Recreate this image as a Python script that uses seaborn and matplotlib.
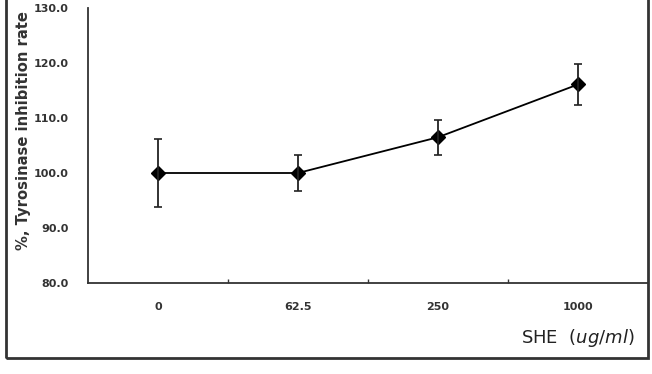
import matplotlib
matplotlib.use("Agg")
import matplotlib.pyplot as plt
from matplotlib.patches import Rectangle
from matplotlib.ticker import FormatStrFormatter, FixedLocator
import seaborn as sns
import pandas as pd

# Data
concentrations = ["0", "62.5", "250", "1000"]
inhibition = [100.0, 100.0, 106.5, 116.1]
sd = [6.1, 3.3, 3.2, 3.7]
y_ticks = [80, 90, 100, 110, 120, 130]

sns.set_theme(style="white")
plt.rcParams["font.family"] = ["DejaVu Sans"]

df = pd.DataFrame({"conc": concentrations, "rate": inhibition})

fig = plt.figure(figsize=(6.52, 3.74), dpi=100)
ax = fig.add_axes([88 / 652, 1 - 283 / 374, 560 / 652, 275 / 374])

sns.pointplot(data=df, x="conc", y="rate", order=concentrations, errorbar=None,
              color="black", markers="D", linestyles="-", linewidth=1.3,
              markersize=7.5, ax=ax)
ax.errorbar(range(len(concentrations)), inhibition, yerr=sd, fmt="none",
            ecolor="#222222", elinewidth=1.3, capsize=3.2, capthick=1.2, zorder=2)

ax.set_xlim(-0.5, 3.5)
ax.set_ylim(80, 130)
ax.set_yticks(y_ticks)
ax.yaxis.set_major_formatter(FormatStrFormatter("%.1f"))
ax.xaxis.set_minor_locator(FixedLocator([0.5, 1.5, 2.5]))
ax.set_xlabel("")
ax.set_ylabel("")

for s in ["top", "right"]:
    ax.spines[s].set_visible(False)
for s in ["left", "bottom"]:
    ax.spines[s].set_color("#333333")
    ax.spines[s].set_linewidth(1.3)

ax.tick_params(axis="y", which="major", direction="in", length=3, width=1,
               color="#333333", pad=14, labelsize=8, labelcolor="#333333")
ax.tick_params(axis="x", which="major", length=0, pad=14, labelsize=8,
               labelcolor="#333333")
ax.tick_params(axis="x", which="minor", direction="in", length=3, width=1,
               color="#333333", bottom=True)
for lab in ax.get_xticklabels() + ax.get_yticklabels():
    lab.set_fontweight("bold")

fig.text(24 / 652, 1 - 250 / 374, "%, Tyrosinase inhibition rate",
         rotation=90, ha="center", va="bottom", fontsize=10.6,
         fontweight="bold", color="#333333")

fig.text(635 / 652, 1 - 338 / 374, r"SHE  ($\it{ug/ml}$)", ha="right",
         va="center", fontsize=13, color="#222222")

fig.patches.append(Rectangle((6 / 652, 1 - 358 / 374), 642 / 652, 1.0,
                             transform=fig.transFigure, fill=False,
                             edgecolor="#333333", linewidth=2))

fig.savefig("out.png", dpi=100)
